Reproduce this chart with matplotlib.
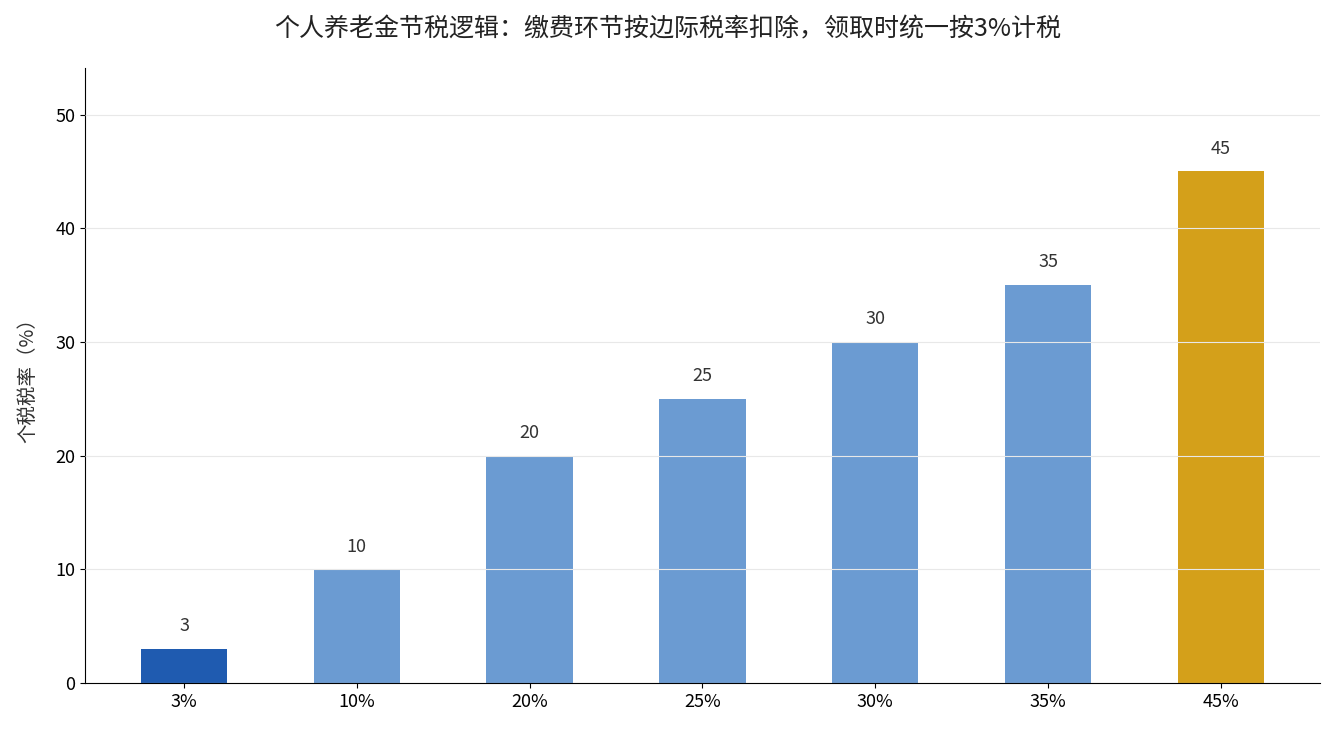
import matplotlib
matplotlib.use("Agg")
import matplotlib.pyplot as plt

plt.rcParams['font.family'] = ['Noto Sans CJK SC', 'DejaVu Sans']

categories = ["3%", "10%", "20%", "25%", "30%", "35%", "45%"]
values = [3, 10, 20, 25, 30, 35, 45]
colors = ["#1f5bb0", "#6b9bd2", "#6b9bd2", "#6b9bd2", "#6b9bd2", "#6b9bd2", "#d4a01a"]

fig = plt.figure(figsize=(13.35, 7.35), dpi=100)
ax = fig.add_axes([85/1335, 1-683/735, (1320-85)/1335, (683-68)/735])
x = range(len(categories))
ax.bar(x, values, width=0.5, color=colors, zorder=1)
for i, v in zip(x, values):
    ax.text(i, v + 1.2, str(v), ha="center", va="bottom", fontsize=13, color="#333333")
ax.set_xticks(list(x))
ax.set_xticklabels(categories, fontsize=13)
ax.tick_params(axis='y', labelsize=13)
ax.set_ylim(0, 54.1)
ax.set_xlim(-0.573, 6.574)
ax.set_yticks([0, 10, 20, 30, 40, 50])
ax.grid(axis='y', color='#e8e8e8', linewidth=0.8, zorder=2)
ax.set_axisbelow(False)
ax.spines['top'].set_visible(False)
ax.spines['right'].set_visible(False)
ax.set_ylabel("个税税率（%）", fontsize=14, color="#333333", labelpad=12)
fig.suptitle("个人养老金节税逻辑：缴费环节按边际税率扣除，领取时统一按3%计税", fontsize=18, y=0.978, color="#222222")
fig.savefig("out.png", dpi=100)
